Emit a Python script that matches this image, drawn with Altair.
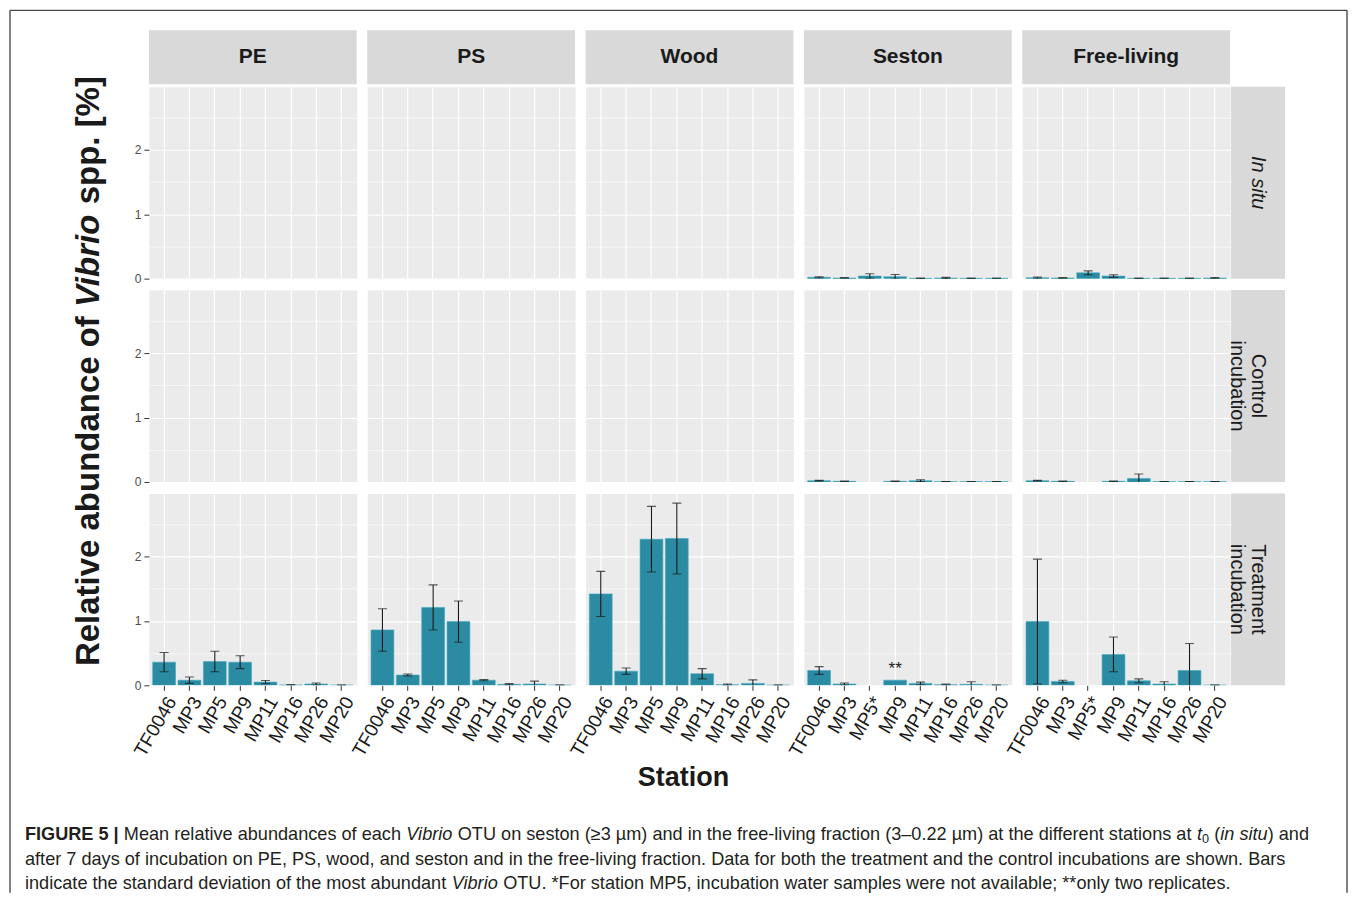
import altair as alt
import numpy as np
import pandas as pd

FONT = "Liberation Sans"

materials = ["PE", "PS", "Wood", "Seston", "Free-living"]
row_labels = ["In situ", "Control\nincubation", "Treatment\nincubation"]
stations = ["TF0046", "MP3", "MP5", "MP9", "MP11", "MP16", "MP26", "MP20"]
stations_water = ["TF0046", "MP3", "MP5*", "MP9", "MP11", "MP16", "MP26", "MP20"]

# In situ (t0): only seston and free-living fraction sampled
situ_mean = {
    "Seston":      [0.02, 0.01, 0.04, 0.03, 0.005, 0.01, 0.005, 0.005],
    "Free-living": [0.015, 0.01, 0.09, 0.04, 0.005, 0.005, 0.005, 0.01],
}
situ_sd = {
    "Seston":      [0.01, 0.005, 0.035, 0.035, 0.003, 0.01, 0.003, 0.004],
    "Free-living": [0.01, 0.005, 0.03, 0.02, 0.003, 0.004, 0.004, 0.008],
}
# Control incubation
ctrl_mean = {
    "Seston":      [0.02, 0.01, None, 0.01, 0.02, 0.005, 0.005, 0.005],
    "Free-living": [0.02, 0.01, None, 0.01, 0.055, 0.005, 0.005, 0.005],
}
ctrl_sd = {
    "Seston":      [0.005, 0.005, None, 0.005, 0.015, 0.003, 0.003, 0.003],
    "Free-living": [0.005, 0.005, None, 0.005, 0.07, 0.003, 0.003, 0.003],
}
# Treatment incubation
treat_mean = {
    "PE":          [0.36, 0.08, 0.37, 0.36, 0.05, 0.005, 0.02, 0.003],
    "PS":          [0.86, 0.16, 1.21, 0.99, 0.08, 0.015, 0.02, 0.003],
    "Wood":        [1.42, 0.22, 2.27, 2.28, 0.18, 0.01, 0.03, 0.003],
    "Seston":      [0.23, 0.02, None, 0.08, 0.03, 0.01, 0.015, 0.003],
    "Free-living": [0.99, 0.06, None, 0.48, 0.07, 0.02, 0.23, 0.003],
}
treat_sd = {
    "PE":          [0.15, 0.05, 0.16, 0.10, 0.025, 0.008, 0.015, 0.003],
    "PS":          [0.33, 0.015, 0.35, 0.32, 0.01, 0.012, 0.045, 0.003],
    "Wood":        [0.35, 0.05, 0.51, 0.55, 0.08, 0.01, 0.055, 0.003],
    "Seston":      [0.06, 0.015, None, None, 0.02, 0.008, 0.04, 0.003],
    "Free-living": [0.97, 0.02, None, 0.27, 0.03, 0.035, 0.42, 0.003],
}
row_means = [situ_mean, ctrl_mean, treat_mean]
row_sds = [situ_sd, ctrl_sd, treat_sd]

# annotation: only two replicates
annot_row = 2
annot_material = "Seston"
annot_station = "MP9"
annot_text = "**"

BAR = "#2A8BA2"
BAR_EDGE = "#3FA9C2"
INK = "#1A1A1A"
PW, PH = 208, 192
COL_GAP, ROW_GAP = 10.5, 11.5
STRIP_W = 54
YMAX = 2.98


def panel(material, r):
    st = stations_water if material in ("Seston", "Free-living") else stations
    m = row_means[r].get(material, [None] * len(st))
    s = row_sds[r].get(material, [None] * len(st))
    df = pd.DataFrame({
        "station": st,
        "mean": [np.nan if v is None else v for v in m],
        "sd": [np.nan if v is None else v for v in s],
    })
    df["lo"] = df["mean"] - df["sd"]
    df["hi"] = df["mean"] + df["sd"]

    show_x = r == 2
    show_y = material == "PE"
    xscale = alt.Scale(domain=st, paddingInner=0.1, paddingOuter=0.15)
    yscale = alt.Scale(domain=[0, YMAX], nice=False, zero=False)
    if show_x:
        xaxis = alt.Axis(title=None, labelAngle=300, labelAlign="right", labelBaseline="top",
                         labelFontSize=19, labelColor=INK, labelFont=FONT, labelPadding=3,
                         labelOverlap=False, tickColor="#333333", tickSize=5, tickWidth=1,
                         domain=False, grid=True, gridColor="white", gridWidth=1.1,
                         bandPosition=0.5)
    else:
        xaxis = alt.Axis(title=None, labels=False, ticks=False, domain=False, grid=True,
                         gridColor="white", gridWidth=1.1, bandPosition=0.5)
    yaxis = alt.Axis(title=None, values=[0, 0.5, 1, 1.5, 2, 2.5],
                     labelExpr="datum.value % 1 == 0 ? format(datum.value, 'd') : ''",
                     labels=show_y, ticks=show_y,
                     tickOpacity={"condition": {"test": "datum.value % 1 != 0", "value": 0}, "value": 1},
                     tickSize=5, tickColor="#333333", labelColor="#4D4D4D", labelFontSize=12,
                     labelFont=FONT, labelPadding=3, domain=False, grid=True, gridColor="white",
                     gridWidth={"condition": {"test": "datum.value % 1 != 0", "value": 0.55}, "value": 1.1})
    X = alt.X("station:N", scale=xscale, axis=xaxis, sort=st)
    base = alt.Chart(df)
    bars = base.mark_bar(fill=BAR, stroke=BAR_EDGE, strokeWidth=0.6, clip=True).encode(
        x=X, y=alt.Y("mean:Q", scale=yscale, axis=yaxis))
    rule = base.mark_rule(color=INK, strokeWidth=1.1, clip=True).encode(
        x=X, y=alt.Y("lo:Q", scale=yscale, axis=yaxis), y2="hi:Q")
    cap_lo = base.mark_tick(color=INK, size=9, thickness=1.1, clip=True).encode(
        x=X, y=alt.Y("lo:Q", scale=yscale, axis=yaxis))
    cap_hi = base.mark_tick(color=INK, size=9, thickness=1.1, clip=True).encode(
        x=X, y=alt.Y("hi:Q", scale=yscale, axis=yaxis))
    layers = [bars, rule, cap_lo, cap_hi]
    if r == annot_row and material == annot_material:
        adf = df[df["station"] == annot_station].assign(label=annot_text)
        layers.append(alt.Chart(adf).mark_text(fontSize=17, color=INK, font=FONT, baseline="bottom",
                                               dy=-2).encode(
            x=X, y=alt.Y("mean:Q", scale=yscale, axis=yaxis), text="label:N"))
    return alt.layer(*layers).properties(
        width=PW, height=PH, view=alt.ViewBackground(fill="#EBEBEB", stroke="transparent"))


STRIP_H = 65.5  # cell height; the strip box is drawn from 21 to 75 (2px above the panels)


def col_strip(name):
    d = pd.DataFrame({"label": [name]})
    rect = alt.Chart(d).mark_rect(fill="#D9D9D9").encode(
        x=alt.value(0), x2=alt.value(PW), y=alt.value(21), y2=alt.value(75))
    txt = alt.Chart(d).mark_text(fontSize=21, fontWeight="bold", color=INK, font=FONT,
                                 align="center", baseline="middle").encode(
        x=alt.value(PW / 2), y=alt.value(48), text="label:N")
    return alt.layer(rect, txt).properties(width=PW, height=STRIP_H)


def blank():
    d = pd.DataFrame({"label": [""]})
    return alt.Chart(d).mark_rect(opacity=0).encode(
        x=alt.value(2), x2=alt.value(3), y=alt.value(30), y2=alt.value(31)
    ).properties(width=STRIP_W, height=STRIP_H)


def row_strip(label, italic):
    # cell sits COL_GAP right of the panel; the box starts 1px right of the panel
    off = -(COL_GAP - 1)
    d = pd.DataFrame({"label": [label]})
    rect = alt.Chart(d).mark_rect(fill="#D9D9D9").encode(
        x=alt.value(off), x2=alt.value(off + STRIP_W), y=alt.value(0), y2=alt.value(PH))
    txt = alt.Chart(d).mark_text(fontSize=20, color=INK, font=FONT, angle=90, align="center",
                                 baseline="middle", lineBreak="\n",
                                 fontStyle="italic" if italic else "normal", lineHeight=21).encode(
        x=alt.value(off + STRIP_W / 2), y=alt.value(PH / 2), text="label:N")
    return alt.layer(rect, txt).properties(width=STRIP_W, height=PH)


cells = [col_strip(m) for m in materials] + [blank()]
for r in range(3):
    cells += [panel(m, r) for m in materials]
    cells.append(row_strip(row_labels[r], r == 0))
grid = alt.concat(*cells, columns=6, spacing={"row": ROW_GAP, "column": COL_GAP}, bounds="flush")

# ---------- text metrics (Arial / Liberation Sans advance widths, 1/1000 em) ----------
REG = {" ": 278, "!": 278, "%": 889, "(": 333, ")": 333, "*": 389, ",": 278, "-": 333, ".": 278,
       ";": 278, ":": 278, "|": 260, "[": 278, "]": 278, "\u2013": 556, "\u2265": 549, "\u00b5": 556}
BOLD = {" ": 278, "!": 333, "%": 889, "(": 333, ")": 333, "*": 389, ",": 278, "-": 333, ".": 278,
        ";": 333, ":": 333, "|": 280, "[": 333, "]": 333}
for dgt in "0123456789":
    REG[dgt] = 556
    BOLD[dgt] = 556
for ch, w in zip("ABCDEFGHIJKLMNOPQRSTUVWXYZ",
                 [667, 667, 722, 722, 667, 611, 778, 722, 278, 500, 667, 556, 833, 722, 778, 667,
                  778, 722, 667, 611, 722, 667, 944, 667, 667, 611]):
    REG[ch] = w
for ch, w in zip("abcdefghijklmnopqrstuvwxyz",
                 [556, 556, 500, 556, 556, 278, 556, 556, 222, 222, 500, 222, 833, 556, 556, 556,
                  556, 333, 500, 278, 556, 500, 722, 500, 500, 500]):
    REG[ch] = w
for ch, w in zip("ABCDEFGHIJKLMNOPQRSTUVWXYZ",
                 [722, 722, 722, 722, 667, 611, 778, 722, 278, 556, 722, 611, 833, 722, 778, 667,
                  778, 722, 667, 611, 722, 667, 944, 667, 667, 611]):
    BOLD[ch] = w
for ch, w in zip("abcdefghijklmnopqrstuvwxyz",
                 [556, 611, 556, 611, 556, 333, 611, 611, 278, 278, 556, 278, 889, 611, 611, 611,
                  611, 389, 556, 333, 611, 556, 778, 556, 556, 500]):
    BOLD[ch] = w


def em(s, bold=False):
    t = BOLD if bold else REG
    return sum(t.get(c, 556) for c in s) / 1000.0


one = pd.DataFrame({"k": [0]})


def text(txt, x, y, size, weight="normal", style="normal", angle=0, align="left",
         color="#231F20", baseline="middle"):
    return alt.Chart(one).mark_text(text=txt, fontSize=size, fontWeight=weight, fontStyle=style,
                                    angle=angle, align=align, baseline=baseline, color=color,
                                    font=FONT).encode(x=alt.value(x), y=alt.value(y))


def pieces_h(parts, x0, y, size, color="#231F20"):
    """parts: list of (style, text). style in n, b, i, sub"""
    out = []
    cx = x0
    for st, s in parts:
        sz = size * 0.7 if st == "sub" else size
        bold = st == "b"
        lead = s[: len(s) - len(s.lstrip(" "))]
        core = s.strip(" ")
        px = cx + em(lead, bold) * sz
        if core:
            out.append(text(core, px, y + (4 if st == "sub" else 0), sz,
                            weight="bold" if bold else "normal",
                            style="italic" if st == "i" else "normal", color=color))
        cx += em(s, bold) * sz
    return out


cap1 = [("b", "FIGURE 5 | "), ("n", "Mean relative abundances of each "), ("i", "Vibrio"),
        ("n", " OTU on seston (\u22653 \u00b5m) and in the free-living fraction (3\u20130.22 \u00b5m) at the different stations at "),
        ("i", "t"), ("sub", "0"), ("n", " ("), ("i", "in situ"), ("n", ") and")]
cap2 = [("n", "after 7 days of incubation on PE, PS, wood, and seston and in the free-living fraction. "
              "Data for both the treatment and the control incubations are shown. Bars")]
cap3 = [("n", "indicate the standard deviation of the most abundant "), ("i", "Vibrio"),
        ("n", " OTU. *For station MP5, incubation water samples were not available; **only two replicates.")]

line1_em = sum(em(s, st == "b") * (0.7 if st == "sub" else 1.0) for st, s in cap1)
cap_size = 1285.0 / line1_em

ytitle_parts = [("b", "Relative abundance of "), ("bi", "Vibrio"), ("b", " spp. [%]")]
YT_SIZE = 33
ywidths = [em(s, True) * YT_SIZE for _, s in ytitle_parts]
y_start = 362 + sum(ywidths) / 2
ytitle_layers = []
cy = y_start
for (st, s), w in zip(ytitle_parts, ywidths):
    lead = s[: len(s) - len(s.lstrip(" "))]
    core = s.strip(" ")
    ytitle_layers.append(text(core, 80, cy - em(lead, True) * YT_SIZE, YT_SIZE, weight="bold",
                              style="italic" if st == "bi" else "normal", angle=270, color=INK))
    cy -= w

CANVAS_H = 884
RIGHT = 1339
border = "#4A4A4A"
canvas_layers = [
    alt.Chart(one).mark_rule(color=border, strokeWidth=1.4).encode(
        x=alt.value(1), y=alt.value(1), y2=alt.value(CANVAS_H)),
    alt.Chart(one).mark_rule(color=border, strokeWidth=1.4).encode(
        x=alt.value(RIGHT), y=alt.value(1), y2=alt.value(CANVAS_H)),
    alt.Chart(one).mark_rule(color=border, strokeWidth=1.4).encode(
        x=alt.value(1), x2=alt.value(RIGHT), y=alt.value(1)),
    text("Station", 675, 769, 27, weight="bold", align="center", color=INK),
]
canvas_layers += ytitle_layers
canvas_layers += pieces_h(cap1, 16, 826, cap_size)
canvas_layers += pieces_h(cap2, 16, 851, cap_size)
canvas_layers += pieces_h(cap3, 16, 875, cap_size)
canvas = alt.layer(*canvas_layers).properties(width=140, height=CANVAS_H)

chart = alt.hconcat(canvas, grid, spacing=0, bounds="flush").properties(
    padding=0
).configure(font=FONT).configure_view(stroke="transparent")

chart.save("out.html", embed_options={"renderer": "svg", "actions": False})
